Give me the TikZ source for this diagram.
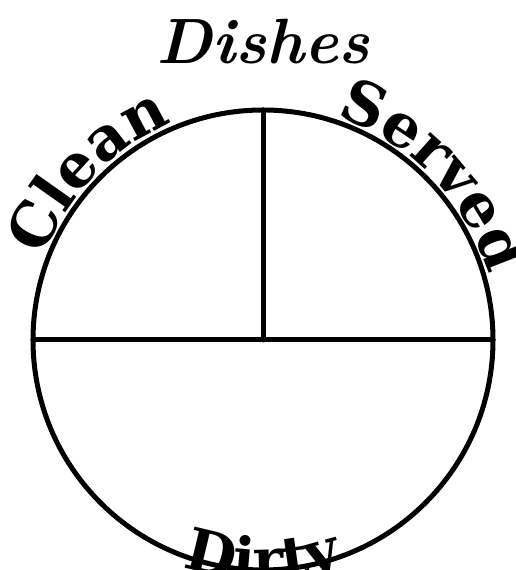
\documentclass[tikz,border=0pt]{standalone}
\usepackage{fontspec}
\usepackage{tikz}
\usetikzlibrary{calc, decorations.text}
\newfontfamily\labelfont{DejaVu Serif}
\newcommand{\arcfont}{\labelfont\bfseries\fontsize{60}{60}\selectfont}
\newcommand{\lowfont}{\labelfont\bfseries\fontsize{58}{58}\selectfont}
\tikzset{
  rim/.style={line width=5pt, color=black, line cap=round},
  arclabel/.style={decorate, decoration={text along path, text align=center,
    text={|\arcfont|#1}}},
  lowlabel/.style={decorate, decoration={text along path, text align=center,
    text={|\lowfont|#1}}},
  titletext/.style={font=\fontsize{64}{64}\selectfont\bfseries\itshape}
}

\begin{document}
\begin{tikzpicture}[x=1pt, y=1pt]
  \useasboundingbox (0,0) rectangle (516,570);
  \clip (0,0) rectangle (516,570);

  % Title
  \coordinate (o) at (263,230);
  \node[titletext] (title) at (263,528) {Dishes};

  % Plate
  \draw[rim] (o) circle (230);
  \draw[rim] (o) -- ++(0,230);
  \draw[rim] ($(o)+(-230,0)$) -- ($(o)+(230,0)$);

  % Labels round the rim
  \path[arclabel=Clean] ($(o)+(166:235)$) arc[start angle=166, end angle=106, radius=235];
  \path[arclabel=Served] ($(o)+(77:235)$) arc[start angle=77, end angle=11, radius=235];
  \path[lowlabel=Dirty] ($(o)+(246:240)$) arc[start angle=246, end angle=294, radius=240];

\end{tikzpicture}
\end{document}
